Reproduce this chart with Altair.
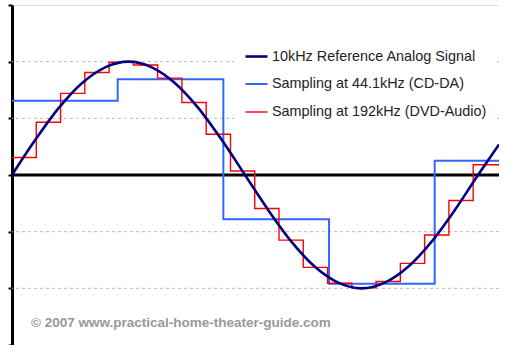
import altair as alt
import pandas as pd

# ---- data ----
series_names = ["10kHz Reference Analog Signal", "Sampling at 44.1kHz (CD-DA)", "Sampling at 192kHz (DVD-Audio)"]
series_colors = ["#000080", "#3366FF", "#FF0000"]

ref_t = [0, 5, 10, 15, 20, 25, 30, 35, 40, 45, 50, 55, 60, 65, 70, 75, 80, 85, 90, 95, 100, 104.5]
ref_v = [0, 0.62, 1.18, 1.62, 1.90, 2.0, 1.90, 1.62, 1.18, 0.62, 0, -0.62, -1.18, -1.62, -1.90, -2.0,
         -1.90, -1.62, -1.18, -0.62, 0, 0.54]

cd_t = [0, 22.68, 45.35, 68.03, 90.70, 104.5]
cd_v = [1.31, 1.69, -0.78, -1.92, 0.25, 0.25]

dvd_t = [0, 5.21, 10.42, 15.63, 20.83, 26.04, 31.25, 36.46, 41.67, 46.88, 52.08, 57.29, 62.5, 67.71,
         72.92, 78.13, 83.33, 88.54, 93.75, 98.96, 104.5]
dvd_v = [0.31, 0.93, 1.44, 1.81, 1.99, 1.94, 1.71, 1.28, 0.72, 0.07, -0.59, -1.15, -1.63, -1.91,
         -1.99, -1.88, -1.56, -1.06, -0.45, 0.18, 0.18]

y_ticks = [-3, -2, -1, 0, 1, 2, 3]
grid_vals = [-2, -1, 1, 2]
zero_vals = [0]
credit = ["© 2007 www.practical-home-theater-guide.com"]

# ---- tables ----
ref_df = pd.DataFrame({"t": ref_t, "v": ref_v, "series": series_names[0]})
step_df = pd.concat([
    pd.DataFrame({"t": cd_t, "v": cd_v, "series": series_names[1]}),
    pd.DataFrame({"t": dvd_t, "v": dvd_v, "series": series_names[2]}),
])
grid_df = pd.DataFrame({"v": grid_vals})
zero_df = pd.DataFrame({"v": zero_vals})
credit_df = pd.DataFrame({"label": credit})

FONT = "Liberation Sans"

x_scale = alt.Scale(domain=[0, 104.5], nice=False, zero=False)
y_scale = alt.Scale(domain=[-3, 3], nice=False)
y_axis = alt.Axis(values=y_ticks, labels=False, ticks=True, tickSize=4, tickWidth=2,
                  tickColor="black", domainColor="black", domainWidth=3, grid=False, title=None)

legend = alt.Legend(title=None, orient="none", legendX=222, legendY=29, fillColor="white",
                    padding=10, symbolType="stroke", symbolSize=484, labelFontSize=14.4,
                    labelFont=FONT, labelColor="#222222", labelOffset=3, rowPadding=9,
                    labelLimit=400)

color = alt.Color("series:N", scale=alt.Scale(domain=series_names, range=series_colors), legend=legend)
width = alt.StrokeWidth("series:N", scale=alt.Scale(domain=series_names, range=[2.6, 1.4, 1.6]), legend=legend)

grid = alt.Chart(grid_df).mark_rule(color="#BBBBBB", strokeDash=[3, 3], strokeWidth=1).encode(
    y=alt.Y("v:Q", scale=y_scale, axis=y_axis)
)
zero = alt.Chart(zero_df).mark_rule(color="black", strokeWidth=3).encode(
    y=alt.Y("v:Q", scale=y_scale, axis=y_axis)
)
steps = alt.Chart(step_df).mark_line(interpolate="step-after", clip=True).encode(
    x=alt.X("t:Q", scale=x_scale, axis=None),
    y=alt.Y("v:Q", scale=y_scale, axis=y_axis),
    color=color, strokeWidth=width, detail="series:N",
)
ref = alt.Chart(ref_df).mark_line(interpolate="monotone", clip=True).encode(
    x=alt.X("t:Q", scale=x_scale, axis=None),
    y=alt.Y("v:Q", scale=y_scale, axis=y_axis),
    color=color, strokeWidth=width,
)
credit_text = alt.Chart(credit_df).mark_text(
    align="left", baseline="alphabetic", font=FONT, fontSize=13.5, fontWeight="bold", color="#999999"
).encode(text="label:N", x=alt.value(19), y=alt.value(322))

chart = alt.layer(grid, zero, steps, ref, credit_text).properties(
    width=487, height=340,
    autosize=alt.AutoSizeParams(type="none"),
    padding={"left": 12, "top": 5, "right": 0, "bottom": 0},
).configure_view(stroke="#C8C8F0", strokeWidth=1.5).configure(background="white")

chart.save("out.html", embed_options={"renderer": "svg", "actions": False})
